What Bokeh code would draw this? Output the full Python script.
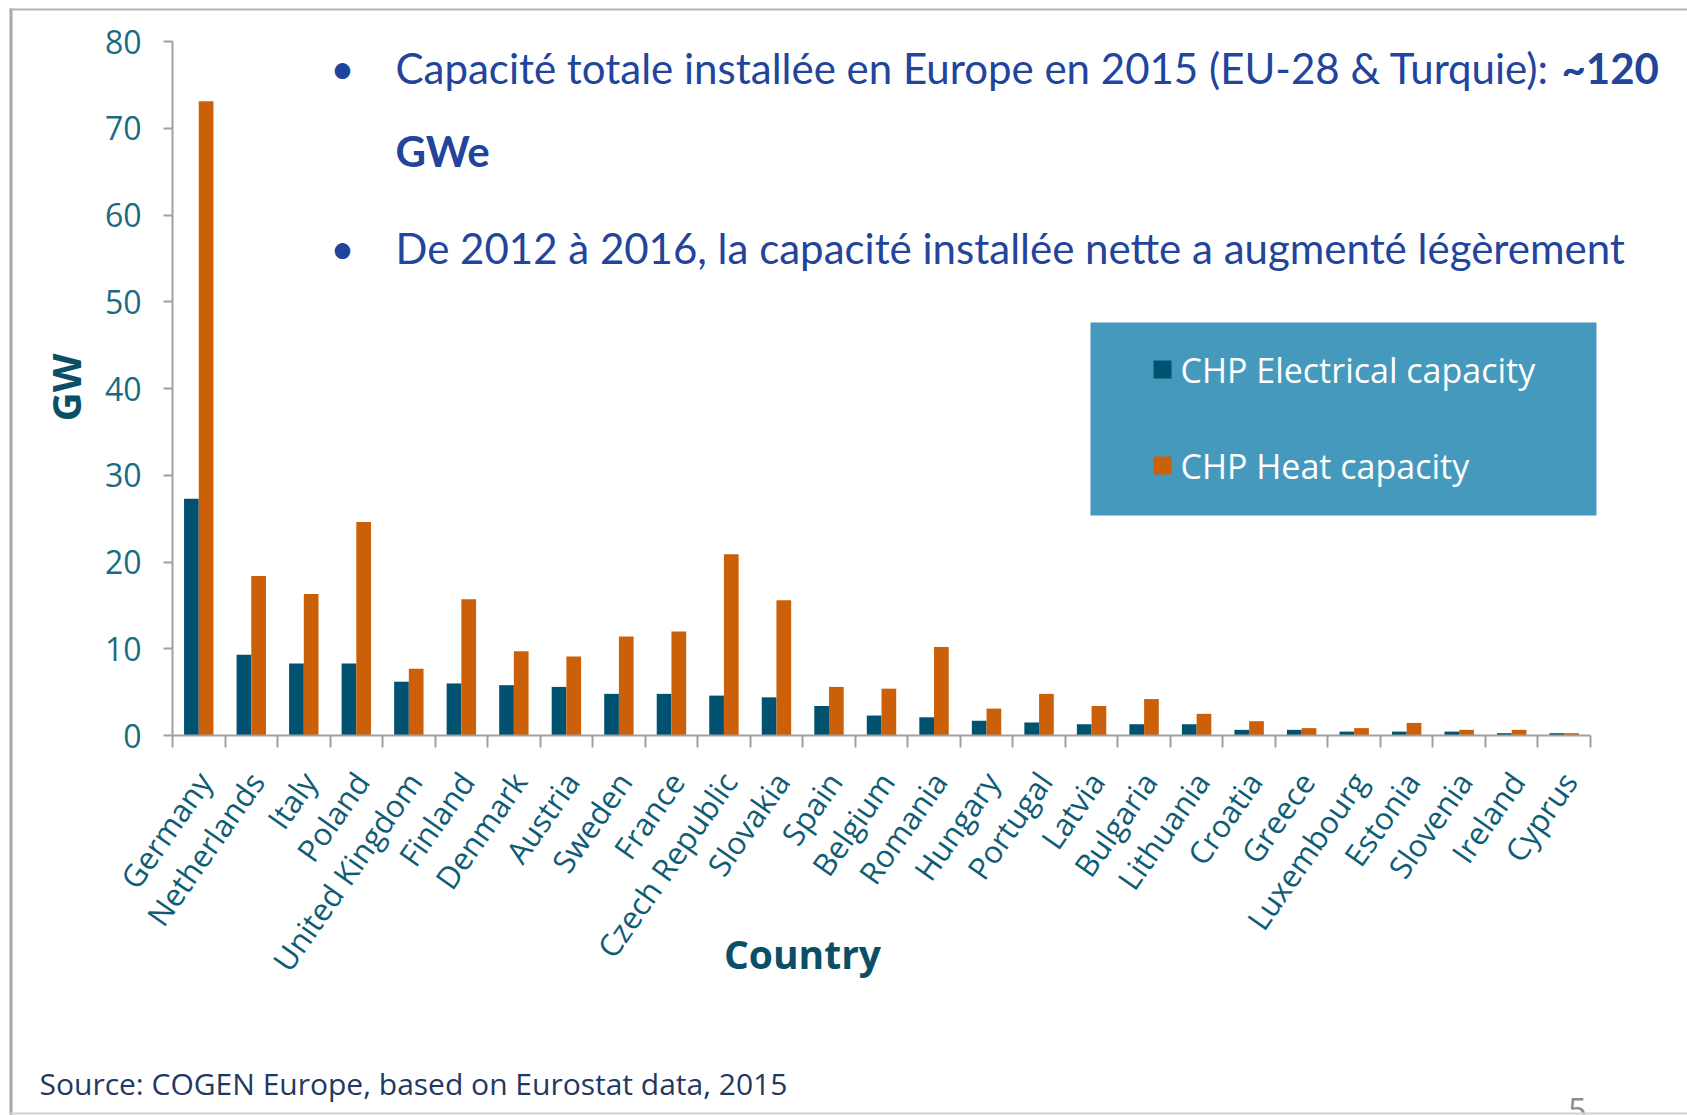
import math
from bokeh.plotting import figure
from bokeh.models import ColumnDataSource, FixedTicker, Label, BoxAnnotation, Range1d
from bokeh.transform import dodge
from bokeh.embed import file_html
from bokeh.resources import INLINE

countries = ["Germany", "Netherlands", "Italy", "Poland", "United Kingdom", "Finland",
             "Denmark", "Austria", "Sweden", "France", "Czech Republic", "Slovakia",
             "Spain", "Belgium", "Romania", "Hungary", "Portugal", "Latvia", "Bulgaria",
             "Lithuania", "Croatia", "Greece", "Luxembourg", "Estonia", "Slovenia",
             "Ireland", "Cyprus"]
electrical = [27.3, 9.3, 8.3, 8.3, 6.2, 6.0, 5.8, 5.6, 4.8, 4.8, 4.6, 4.4, 3.4, 2.3,
              2.1, 1.7, 1.5, 1.3, 1.3, 1.3, 0.65, 0.65, 0.45, 0.45, 0.45, 0.27, 0.27]
heat = [73.1, 18.4, 16.3, 24.6, 7.7, 15.7, 9.7, 9.1, 11.4, 12.0, 20.9, 15.6, 5.6, 5.4,
        10.2, 3.1, 4.8, 3.4, 4.2, 2.5, 1.65, 0.85, 0.85, 1.45, 0.65, 0.65, 0.27]
y_ticks = [0, 10, 20, 30, 40, 50, 60, 70, 80]

BLUE = "#005270"
ORANGE = "#CC6008"
TEAL_TXT = "#0E5C76"
SLIDE_BLUE = "#22449B"
FONT = "Open Sans"

W, H = 1687, 1115
# target pixel positions of the plotting area (canvas pixels from top-left)
FL, FR, FT, FB = 172, 1590, 41, 735
n = len(countries)
ux = (FR - FL) / n
uy = (FB - FT) / 80.0

def X(px):
    return (px - FL) / ux - 0.5

def Y(py):
    return (FB - py) / uy

p = figure(width=W, height=H,
           x_range=Range1d(X(0), X(W)), y_range=Range1d(Y(H), Y(0)),
           output_backend="svg", toolbar_location=None,
           min_border=0, min_border_left=0, min_border_right=0,
           min_border_top=0, min_border_bottom=0)
p.title.visible = False
p.outline_line_color = None
p.xgrid.visible = False
p.ygrid.visible = False

src = ColumnDataSource(dict(x=list(range(n)), country=countries,
                            electrical=electrical, heat=heat))
p.vbar(x=dodge("x", -0.14, range=p.x_range), top="electrical", width=0.28, source=src,
       fill_color=BLUE, line_color=None)
p.vbar(x=dodge("x", 0.14, range=p.x_range), top="heat", width=0.28, source=src,
       fill_color=ORANGE, line_color=None)

# x axis (drawn at y = 0)
label_shift = 0.1
xa = p.xaxis[0]
xa.fixed_location = 0
xa.bounds = (-0.5, n - 0.5)
xticks = [i + label_shift for i in range(n)]
xa.ticker = FixedTicker(ticks=xticks, minor_ticks=[i - 0.5 for i in range(n + 1)])
xa.major_label_overrides = {t: c for t, c in zip(xticks, countries)}
xa.major_tick_line_color = None
xa.major_tick_out = 0
xa.major_tick_in = 0
xa.minor_tick_line_color = "#A0A0A0"
xa.minor_tick_line_width = 2
xa.minor_tick_out = 12
xa.minor_tick_in = 0
xa.axis_line_color = "#A0A0A0"
xa.axis_line_width = 2
xa.major_label_orientation = math.radians(55)
xa.major_label_standoff = 28
xa.major_label_text_font = FONT
xa.major_label_text_font_size = "31px"
xa.major_label_text_color = TEAL_TXT

# y axis (drawn at the left edge of the first category)
ya = p.yaxis[0]
ya.fixed_location = -0.5
ya.bounds = (0, 80)
ya.ticker = FixedTicker(ticks=y_ticks)
ya.minor_tick_line_color = None
ya.major_tick_out = 9
ya.major_tick_in = 0
ya.major_tick_line_color = "#A0A0A0"
ya.major_tick_line_width = 2
ya.axis_line_color = "#A0A0A0"
ya.axis_line_width = 2
ya.major_label_standoff = 22
ya.major_label_text_font = FONT
ya.major_label_text_font_size = "32px"
ya.major_label_text_color = "#1B6A82"

def lab(x, y, text, size, color, bold=False, align="left", baseline="middle", angle=0, font=FONT):
    p.add_layout(Label(x=X(x), y=Y(y), text=text, text_font=font, text_font_size=size,
                       text_color=color, text_font_style="bold" if bold else "normal",
                       text_align=align, text_baseline=baseline, angle=angle))

# page number (partly hidden by the slide's bottom edge)
lab(1577, 1097, "5", "32px", "#8A8A8A", align="center", baseline="top")

# slide frame lines
p.add_layout(BoxAnnotation(left=X(0), right=X(W + 5), top=Y(1114), bottom=Y(H + 5),
                           fill_color="white", fill_alpha=1, line_color=None))
p.add_layout(BoxAnnotation(left=X(9), right=X(12), top=Y(8), bottom=Y(H + 5),
                           fill_color="#A8A8A8", fill_alpha=1, line_color=None))
p.add_layout(BoxAnnotation(left=X(9), right=X(W + 5), top=Y(8), bottom=Y(10),
                           fill_color="#B4B4B4", fill_alpha=1, line_color=None))
p.add_layout(BoxAnnotation(left=X(9), right=X(W + 5), top=Y(1112), bottom=Y(1114),
                           fill_color="#D0D0D0", fill_alpha=1, line_color=None))

# bullets
BF = "Lato"
lab(342, 67, "•", "42px", SLIDE_BLUE, align="center", font=BF)
lab(395, 67, "Capacité totale installée en Europe en 2015  (EU-28 & Turquie):", "42px", SLIDE_BLUE, font=BF)
lab(1561, 67, "~120", "42px", SLIDE_BLUE, bold=True, font=BF)
lab(395, 150, "GWe", "42px", SLIDE_BLUE, bold=True, font=BF)
lab(342, 247, "•", "42px", SLIDE_BLUE, align="center", font=BF)
lab(395, 247, "De 2012 à 2016, la capacité installée nette a augmenté légèrement", "42px", SLIDE_BLUE, font=BF)

# legend box
p.add_layout(BoxAnnotation(left=X(1090), right=X(1596), top=Y(322), bottom=Y(515),
                           fill_color="#4499BD", fill_alpha=1, line_color=None))
p.add_layout(BoxAnnotation(left=X(1153), right=X(1171), top=Y(360), bottom=Y(378),
                           fill_color=BLUE, fill_alpha=1, line_color=None))
p.add_layout(BoxAnnotation(left=X(1153), right=X(1171), top=Y(456), bottom=Y(474),
                           fill_color=ORANGE, fill_alpha=1, line_color=None))
lab(1180, 369, "CHP Electrical capacity", "34px", "white")
lab(1180, 465, "CHP Heat capacity", "34px", "white")

# axis titles
lab(65, 387, "GW", "40px", "#0A4F66", bold=True, align="center", angle=math.pi / 2)
lab(802, 953, "Country", "39px", "#0A4F66", bold=True, align="center")

# source
lab(39, 1083, "Source: COGEN Europe, based on Eurostat data, 2015", "30px", "#1F3864")

open("out.html", "w").write(file_html(p, INLINE))
